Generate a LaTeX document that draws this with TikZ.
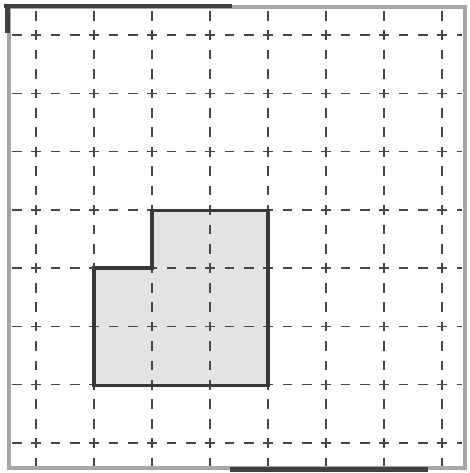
\documentclass[tikz,border=0pt]{standalone}
\begin{document}
\begin{tikzpicture}[x=1pt,y=-1pt,
  gridline/.style={draw=black!72,line width=1.4pt,dash pattern=on 9.67pt off 9.67pt},
  gridlinev/.style={draw=black!72,line width=1.4pt,dash pattern=on 9.7pt off 9.73pt},
  frame/.style={draw=black!35,line width=4pt},
  darkbar/.style={draw=black!75,line width=4.5pt},
  region/.style={fill=black!11},
  outline/.style={draw=black!78,line width=3.6pt,line join=miter}]
\useasboundingbox (0,0) rectangle (470,473);
\fill[white] (0,0) rectangle (470,473);
% shaded region
\fill[region] (94,268) -- (152,268) -- (152,210.6) -- (268,210.6) -- (268,385.5) -- (94,385.5) -- cycle;
% grid
\foreach \i in {0,...,7}{
  \draw[gridline] (11.84,{35+58.29*\i}) -- (462,{35+58.29*\i});
  \draw[gridlinev] ({36+58*\i},10.84) -- ({36+58*\i},466);
}
% frame
\draw[frame] (9,7) rectangle (465,468);
\draw[darkbar] (4,6) -- (232,6);
\draw[darkbar] (7.5,4) -- (7.5,33);
\draw[darkbar] (230,469.5) -- (428,469.5);
% outline
\draw[outline] (94,268) -- (152,268) -- (152,210.6) -- (268,210.6) -- (268,385.5) -- (94,385.5) -- cycle;
\end{tikzpicture}
\end{document}
